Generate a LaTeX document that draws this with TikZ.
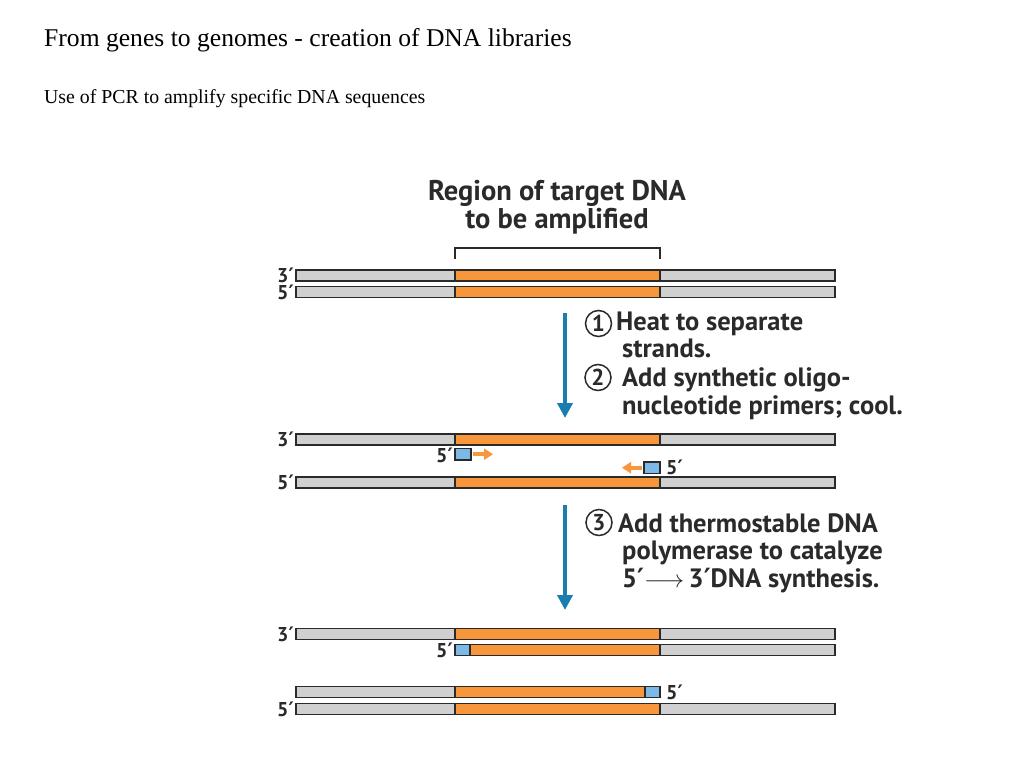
\documentclass[tikz,border=0pt]{standalone}
\usepackage{fontspec}
\setmainfont{Liberation Serif}
\newfontfamily\figfont{PT Sans}
\newfontfamily\primefont{DejaVu Sans}
\usetikzlibrary{positioning}
\usetikzlibrary{arrows.meta}

\definecolor{dnagray}{HTML}{D0D0D0}
\definecolor{dnaorange}{HTML}{F7963A}
\definecolor{primerblue}{HTML}{7DB9E6}
\definecolor{stepblue}{HTML}{1A7DB0}
\definecolor{inkgray}{HTML}{2A2A2A}

\newcommand{\pr}{{\primefont ′}}

\tikzset{
  seg/.style={draw=inkgray, line width=1.8pt},
  lbl/.style={font=\figfont\bfseries\fontsize{20}{22}\selectfont, text=inkgray, inner sep=0pt},
  steptext/.style={font=\figfont\bfseries\fontsize{26.5}{28}\selectfont, text=inkgray, inner sep=0pt, anchor=base west},
  regiontext/.style={font=\figfont\bfseries\fontsize{28.5}{30}\selectfont, text=inkgray, inner sep=0pt, anchor=base},
  stepnum/.style={circle, draw=inkgray, line width=1.5pt, minimum size=26pt, inner sep=0pt,
    font=\figfont\bfseries\fontsize{23}{24}\selectfont, text=inkgray},
  steparrow/.style={draw=stepblue, line width=4pt, -{Triangle[width=15pt,length=15pt]}},
  primerarrow/.style={draw=dnaorange, line width=4pt, -{Triangle[width=11pt,length=9pt]}},
}

% a strand: y, then the x where orange starts and ends
\newcommand{\strand}[3]{%
  \filldraw[seg, fill=dnagray] (296,{#1-5.5}) rectangle (#2,{#1+5.5});
  \filldraw[seg, fill=dnaorange] (#2,{#1-5.5}) rectangle (#3,{#1+5.5});
  \filldraw[seg, fill=dnagray] (#3,{#1-5.5}) rectangle (835,{#1+5.5});
}

\begin{document}
\begin{tikzpicture}[x=1pt,y=-1pt]
  \fill[white] (0,0) rectangle (1024,768);
  \useasboundingbox (0,0) rectangle (1024,768);

  % headings
  \node(title) [anchor=base west, inner sep=0pt, font=\fontsize{25.6}{30}\selectfont] at (44,47)
    {From genes to genomes - creation of DNA libraries};
  \node(subtitle) [anchor=base west, inner sep=0pt, font=\fontsize{19.8}{23}\selectfont] at (44,103)
    {Use of PCR to amplify specific DNA sequences};

  % target region
  \node(region) [regiontext] at (557,200) {Region of target DNA};
  \node(amplified) [regiontext] at (557,228) {to be amplified};
  \draw [inkgray, line width=2.4pt] (455,259) -- (455,248) -- (660,248) -- (660,259);

  % row 1: double strand
  \strand{275.5}{455}{660}
  \strand{292}{455}{660}
  \node(r1top) [lbl, anchor=east] at (294,275.5) {3\pr};
  \node(r1bot) [lbl, anchor=east] at (294,292) {5\pr};

  % steps 1 and 2
  \coordinate (a1start) at (565,313);
  \coordinate (a1end) at (565,418);
  \draw [steparrow] (a1start) -- (a1end);
  \node(num1) [stepnum] at (598.5,323.5) {1};
  \node(heat) [steptext] at (616,330) {Heat to separate};
  \node(strands) [steptext] at (622,357) {strands.};
  \node(num2) [stepnum] at (598,377.5) {2};
  \node(addprim) [steptext] at (622,386) {Add synthetic oligo-};
  \node(nucl) [steptext] at (622,414) {nucleotide primers; cool.};

  % row 2: separated strands with primers
  \strand{439.5}{455}{660}
  \strand{482.5}{455}{660}
  \filldraw[seg, fill=primerblue] (455,448.5) rectangle (471,460);
  \filldraw[seg, fill=primerblue] (644,462) rectangle (660,473.5);
  \coordinate (p1start) at (473,454.2);
  \coordinate (p1end) at (493,454.2);
  \coordinate (p2start) at (642,467.7);
  \coordinate (p2end) at (622,467.7);
  \draw [primerarrow] (p1start) -- (p1end);
  \draw [primerarrow] (p2start) -- (p2end);
  \node(r2top) [lbl, anchor=east] at (294,439.5) {3\pr};
  \node(r2pl) [lbl, anchor=east] at (453,455) {5\pr};
  \node(r2pr) [lbl, anchor=west] at (666,467) {5\pr};
  \node(r2bot) [lbl, anchor=east] at (294,482.5) {5\pr};

  % step 3
  \coordinate (a2start) at (565,505);
  \coordinate (a2end) at (565,610);
  \draw [steparrow] (a2start) -- (a2end);
  \node(num3) [stepnum] at (599,522.5) {3};
  \node(thermo) [steptext] at (618,532) {Add thermostable DNA};
  \node(polym) [steptext] at (622,559) {polymerase to catalyze};
  \node(synth) [steptext] at (622,587) {5\pr$\longrightarrow$\,3\pr DNA synthesis.};

  % row 3: two new double strands
  \strand{634}{455}{660}
  \filldraw[seg, fill=dnaorange] (470,644.5) rectangle (660,655.5);
  \filldraw[seg, fill=dnagray] (660,644.5) rectangle (835,655.5);
  \filldraw[seg, fill=primerblue] (455,644.5) rectangle (470,655.5);
  \filldraw[seg, fill=dnagray] (296,686.5) rectangle (455,697.5);
  \filldraw[seg, fill=dnaorange] (455,686.5) rectangle (645,697.5);
  \filldraw[seg, fill=primerblue] (645,686.5) rectangle (660,697.5);
  \strand{709}{455}{660}
  \node(r3a) [lbl, anchor=east] at (294,634) {3\pr};
  \node(r3b) [lbl, anchor=east] at (453,650) {5\pr};
  \node(r3c) [lbl, anchor=west] at (666,692) {5\pr};
  \node(r3d) [lbl, anchor=east] at (294,709) {5\pr};
\end{tikzpicture}
\end{document}
